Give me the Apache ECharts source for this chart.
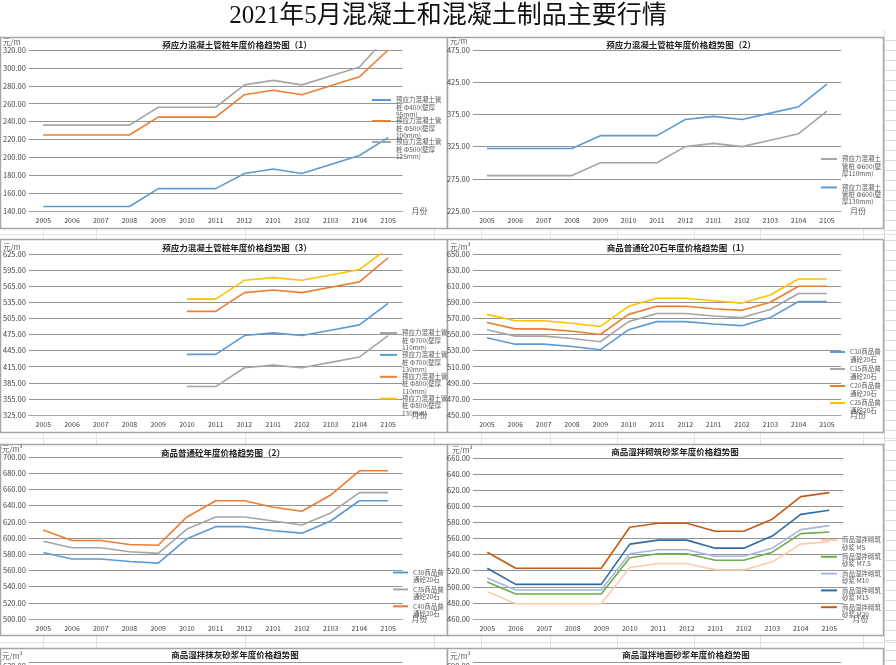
<!DOCTYPE html>
<html><head><meta charset="utf-8">
<script src="https://cdn.jsdelivr.net/npm/echarts@6/dist/echarts.min.js"></script>
<style>html,body{margin:0;padding:0;background:#fff;overflow:hidden}#c{width:896px;height:665px}</style>
</head><body><div id="c"></div>
<script>
// ---------- data ----------
const mainTitle = '2021年5月混凝土和混凝土制品主要行情';
const categories = ['2005','2006','2007','2008','2009','2010','2011','2012','2101','2102','2103','2104','2105'];
const panelTitles = ['预应力混凝土管桩年度价格趋势图（1）','预应力混凝土管桩年度价格趋势图（2）','预应力混凝土管桩年度价格趋势图（3）','商品普通砼20石年度价格趋势图（1）','商品普通砼年度价格趋势图（2）','商品湿拌砌筑砂浆年度价格趋势图','商品湿拌抹灰砂浆年度价格趋势图','商品湿拌地面砂浆年度价格趋势图'];
const units = ['元/m','元/m','元/m','元/m³','元/m³','元/m³','元/m³','元/m³'];
// y axis [min, max, interval]
const yAxis1 = [140, 320, 20];
const yAxis2 = [225, 475, 50];
const yAxis3 = [325, 625, 30];
const yAxis4 = [450, 650, 20];
const yAxis5 = [500, 700, 20];
const yAxis6 = [460, 660, 20];
const yAxis7 = [450, 650, 20];
const yAxis8 = [510, 710, 20];

// panel 1
const p1Names = ['预应力混凝土管桩Φ400(壁厚95mm)','预应力混凝土管桩Φ500(壁厚100mm)','预应力混凝土管桩Φ500(壁厚125mm)'];
const p1Labels = ['预应力混凝土管\n桩 Φ400(壁厚\n95mm)','预应力混凝土管\n桩 Φ500(壁厚\n100mm)','预应力混凝土管\n桩 Φ500(壁厚\n125mm)'];
const p1Phi400 = [145,145,145,145,165,165,165,182,187,182,192,202,222];
const p1Phi500a = [225,225,225,225,245,245,245,270,275,270,280,290,320];
const p1Phi500b = [236,236,236,236,256,256,256,281,286,281,291,301,336];
// panel 2
const p2Names = ['预应力混凝土管桩Φ600(壁厚110mm)','预应力混凝土管桩Φ600(壁厚130mm)'];
const p2Labels = ['预应力混凝土\n管桩 Φ600(壁\n厚110mm)','预应力混凝土\n管桩 Φ600(壁\n厚130mm)'];
const p2Phi600a = [280,280,280,280,300,300,300,325,330,325,335,345,380];
const p2Phi600b = [322,322,322,322,342,342,342,367,372,367,377,387,422];
// panel 3
const p3Names = ['预应力混凝土管桩Φ700(壁厚110mm)','预应力混凝土管桩Φ700(壁厚130mm)','预应力混凝土管桩Φ800(壁厚110mm)','预应力混凝土管桩Φ800(壁厚130mm)'];
const p3Labels = ['预应力混凝土管\n桩 Φ700(壁厚\n110mm)','预应力混凝土管\n桩 Φ700(壁厚\n130mm)','预应力混凝土管\n桩 Φ800(壁厚\n110mm)','预应力混凝土管\n桩 Φ800(壁厚\n130mm)'];
const p3Phi700a = [null,null,null,null,null,378,378,413,418,413,423,433,473];
const p3Phi700b = [null,null,null,null,null,438,438,473,478,473,483,493,533];
const p3Phi800a = [null,null,null,null,null,518,518,553,558,553,563,573,618];
const p3Phi800b = [null,null,null,null,null,541,541,576,581,576,586,596,636];
// panel 4
const p4Names = ['C10商品普通砼20石','C15商品普通砼20石','C20商品普通砼20石','C25商品普通砼20石'];
const p4Labels = ['C10商品普\n通砼20石','C15商品普\n通砼20石','C20商品普\n通砼20石','C25商品普\n通砼20石'];
const p4C10 = [546,538,538,535,531,556,566,566,563,561,571,591,591];
const p4C15 = [556,548,548,545,541,566,576,576,573,571,581,601,601];
const p4C20 = [565,557,557,554,550,575,585,585,582,580,590,610,610];
const p4C25 = [575,567,567,564,560,585,595,595,592,589,599,619,619];
// panel 5
const p5Names = ['C30商品普通砼20石','C35商品普通砼20石','C40商品普通砼20石'];
const p5Labels = ['C30商品普\n通砼20石','C35商品普\n通砼20石','C40商品普\n通砼20石'];
const p5C30 = [582,574,574,571,569,599,614,614,609,606,621,646,646];
const p5C35 = [596,588,588,583,581,611,626,626,621,616,631,656,656];
const p5C40 = [610,597,597,592,591,626,646,646,638,633,653,683,683];
// panel 6
const p6Names = ['商品湿拌砌筑砂浆 M5','商品湿拌砌筑砂浆 M7.5','商品湿拌砌筑砂浆 M10','商品湿拌砌筑砂浆 M15','商品湿拌砌筑砂浆 M20'];
const p6Labels = ['商品湿拌砌筑\n砂浆 M5','商品湿拌砌筑\n砂浆 M7.5','商品湿拌砌筑\n砂浆 M10','商品湿拌砌筑\n砂浆 M15','商品湿拌砌筑\n砂浆 M20'];
const p6M5 = [494,479,479,479,479,524,529,529,521,521,531,553,556];
const p6M75 = [506,491,491,491,491,536,541,541,533,533,543,566,568];
const p6M10 = [511,496,496,496,496,541,546,546,538,538,548,571,576];
const p6M15 = [523,503,503,503,503,553,558,558,548,548,563,590,595];
const p6M20 = [543,523,523,523,523,574,579,579,569,569,584,612,617];

// ---------- styling / layout ----------
const BLUE='#5B9BD5', ORANGE='#ED7D31', GRAY='#A5A5A5', YELLOW='#FFC000';
const FONT = "'Noto Sans CJK SC','Noto Sans',sans-serif";
const panels = [
  {box:[0,37,447,191], tx:237, ty:45, ux:3, uy:42, axis:yAxis1, grid:{left:25.5,top:50,width:377,height:161},
   names:p1Names, labels:p1Labels, data:[p1Phi400,p1Phi500a,p1Phi500b], colors:[BLUE,ORANGE,GRAY], lg:{left:372,iw:19,n:3,sp:21,icon0:100}},
  {box:[447,37,436,191], tx:681, ty:45, ux:450, uy:41, axis:yAxis2, grid:{left:472.8,top:50,width:368.3,height:161},
   names:p2Names, labels:p2Labels, data:[p2Phi600a,p2Phi600b], colors:[GRAY,BLUE], lg:{left:821,iw:16,n:3,sp:28.4,icon0:159}},
  {box:[0,239,447,193], tx:237, ty:248, ux:3, uy:247, axis:yAxis3, grid:{left:24.5,top:254,width:378,height:161},
   names:p3Names, labels:p3Labels, data:[p3Phi700a,p3Phi700b,p3Phi800a,p3Phi800b], colors:[GRAY,BLUE,ORANGE,YELLOW], lg:{left:380,iw:17,n:3,sp:21.9,icon0:333}},
  {box:[447,239,436,193], tx:678, ty:248, ux:450, uy:247, axis:yAxis4, grid:{left:472.8,top:254,width:368.3,height:161},
   names:p4Names, labels:p4Labels, data:[p4C10,p4C15,p4C20,p4C25], colors:[BLUE,GRAY,ORANGE,YELLOW], lg:{left:830,iw:15,n:2,sp:17,icon0:352}},
  {box:[0,444,447,191], tx:223, ty:453, ux:2, uy:449, axis:yAxis5, grid:{left:24.5,top:457,width:378,height:162},
   names:p5Names, labels:p5Labels, data:[p5C30,p5C35,p5C40], colors:[BLUE,GRAY,ORANGE], lg:{left:393,iw:15,n:2,sp:16.9,icon0:572.5}},
  {box:[447,444,436,191], tx:675, ty:452, ux:452, uy:450, axis:yAxis6, grid:{left:473,top:458,width:370.5,height:161},
   names:p6Names, labels:p6Labels, data:[p6M5,p6M75,p6M10,p6M15,p6M20], colors:['#F8CBAD','#70AD47','#A3B6E4','#2E6DA4','#C55A11'], lg:{left:821,iw:16,n:2,sp:16.8,icon0:540}},
  {box:[0,648,447,60], tx:235, ty:655, ux:2, uy:656, axis:yAxis7, grid:{left:24.5,top:662,width:378,height:160}, names:[], labels:[], data:[], colors:[]},
  {box:[447,648,436,60], tx:686, ty:655, ux:450, uy:656, axis:yAxis8, grid:{left:472.8,top:662,width:368.3,height:160}, names:[], labels:[], data:[], colors:[]}
];

const grid=[], xAxis=[], yAxis=[], series=[], legend=[], graphic=[];
// faint spreadsheet cell lines in the background
const cellStyle={stroke:'#E2E2E2',lineWidth:1};
[[228,239],[432,444],[635,648]].forEach(([a,b])=>{
  graphic.push({type:'line', shape:{x1:0,y1:Math.round((a+b)/2)+0.5,x2:896,y2:Math.round((a+b)/2)+0.5}, style:cellStyle, z:-5, silent:true});
  [43,96,245,434,481,550,617,694,760,863].forEach(x=>graphic.push({type:'line', shape:{x1:x+0.5,y1:a,x2:x+0.5,y2:b}, style:cellStyle, z:-5, silent:true}));
});
graphic.push({type:'line', shape:{x1:884.5,y1:30,x2:884.5,y2:665}, style:{stroke:'#D5DCE6',lineWidth:1}, z:-5, silent:true});
for (let y=40; y<665; y+=10) graphic.push({type:'line', shape:{x1:884,y1:y+0.5,x2:896,y2:y+0.5}, style:{stroke:'#D5DCE6',lineWidth:1}, z:-5, silent:true});

graphic.push({type:'text', left:'center', top:4, style:{text:mainTitle, font:"25px 'Liberation Serif','Noto Sans CJK SC',serif", fill:'#111'}});
panels.forEach((p,i)=>{
  graphic.push({type:'rect', shape:{x:p.box[0]+0.5,y:p.box[1]+0.5,width:p.box[2],height:p.box[3]}, style:{fill:'#fff',stroke:'#A6A6A6',lineWidth:1.5}, z:-1});
  graphic.push({type:'text', x:p.tx, y:p.ty, style:{text:panelTitles[i], fontFamily:FONT, fontSize:8.5, fontWeight:'bold', fill:'#222', align:'center', verticalAlign:'middle'}});
  graphic.push({type:'text', x:p.ux, y:p.uy, style:{text:units[i], fontFamily:FONT, fontSize:7.5, fill:'#595959', align:'left', verticalAlign:'middle'}});
  grid.push(Object.assign({containLabel:false}, p.grid));
  xAxis.push({type:'category', gridIndex:i, data:categories, boundaryGap:true,
    axisLine:{lineStyle:{color:'#A6A6A6',width:1}}, axisTick:{show:false},
    axisLabel:{fontSize:7, color:'#404040', fontFamily:FONT, margin:6, interval:0},
    name:'月份', nameLocation:'end', nameGap:9, nameTextStyle:{fontSize:8, color:'#595959', fontFamily:FONT, padding:[18,0,0,0]}});
  yAxis.push({type:'value', gridIndex:i, min:p.axis[0], max:p.axis[1], interval:p.axis[2],
    axisLine:{show:false}, axisTick:{show:false},
    splitLine:{lineStyle:{color:'#959595',width:1}},
    axisLabel:{fontSize:7.5, color:'#404040', fontFamily:FONT, margin:3, formatter:v=>v.toFixed(2)}});
  p.data.forEach((d,k)=>{
    series.push({type:'line', name:p.names[k], xAxisIndex:i, yAxisIndex:i, data:d, symbol:'none',
      color:p.colors[k], lineStyle:{width:1.6, color:p.colors[k]}, clip:true, connectNulls:false});
  });
  if (p.lg) {
    const lh=7.2, n=p.lg.n, textH=(2*n-1)*lh, half=textH/2;
    const pad='\n'.repeat(n-1);
    const map={}; p.names.forEach((nm,k)=>map[nm]=pad+p.labels[k]);
    legend.push({orient:'vertical', left:p.lg.left, top:p.lg.icon0-half, padding:0, icon:'rect', itemWidth:p.lg.iw, itemHeight:2,
      itemGap:p.lg.sp-textH, selectedMode:false, data:p.names, formatter:nm=>map[nm],
      textStyle:{fontSize:6.5, lineHeight:lh, color:'#595959', fontFamily:FONT}});
  }
});

const chart = echarts.init(document.getElementById('c'), null, {renderer:'canvas'});
chart.setOption({animation:false, backgroundColor:'#fff', textStyle:{fontFamily:FONT}, grid, xAxis, yAxis, series, legend, graphic});
</script></body></html>
